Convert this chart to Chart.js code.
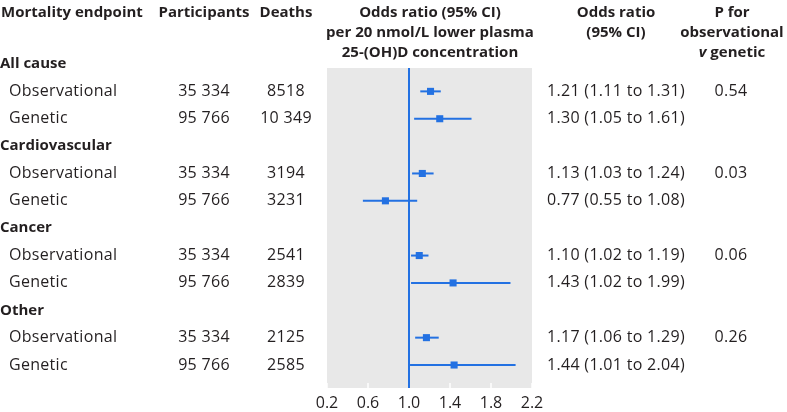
<!DOCTYPE html>
<html>
<head>
<meta charset="utf-8">
<script src="https://cdn.jsdelivr.net/npm/chart.js@4/dist/chart.umd.min.js"></script>
<style>
  html, body { margin: 0; padding: 0; background: #fff; }
  #wrap { width: 787px; height: 412px; position: relative; }
</style>
</head>
<body>
<div id="wrap"><canvas id="chart"></canvas></div>
<script>
const categories = ['All cause', 'Cardiovascular', 'Cancer', 'Other']
const methods = ['Observational', 'Genetic']
const participants = ['35 334', '95 766']
const deaths = [8518, 10349, 3194, 3231, 2541, 2839, 2125, 2585]
const oddsRatio = [1.21, 1.30, 1.13, 0.77, 1.10, 1.43, 1.17, 1.44]
const ciLow = [1.11, 1.05, 1.03, 0.55, 1.02, 1.02, 1.06, 1.01]
const ciHigh = [1.31, 1.61, 1.24, 1.08, 1.19, 1.99, 1.29, 2.04]
const pValues = ['0.54', '0.03', '0.06', '0.26']
const xTicks = [0.2, 0.6, 1.0, 1.4, 1.8, 2.2]

const BLUE = '#2371e2'
const TEXT = '#231f20'
const FONT = '"Open Sans", sans-serif'
const Y_MIN = 0.146, Y_MAX = 11.84

// each category gets a header row then one row per method
const rowOf = i => Math.floor(i / 2) * 3 + 1 + (i % 2)
const fmt = n => n >= 10000 ? String(n).replace(/(\d)(?=(\d{3})$)/, '$1 ') : String(n)

const ciSets = oddsRatio.map((_, i) => ({
  type: 'line',
  data: [{ x: ciLow[i], y: rowOf(i) }, { x: ciHigh[i], y: rowOf(i) }],
  borderColor: BLUE, borderWidth: 2, pointRadius: 0, order: 2
}))

const bgPlugin = {
  id: 'bg',
  beforeDraw(chart) {
    const { ctx, chartArea: a } = chart
    ctx.save()
    ctx.fillStyle = '#e8e8e8'
    ctx.fillRect(a.left, a.top, a.right - a.left, a.bottom - a.top)
    // small white tick marks at the bottom of the panel
    ctx.strokeStyle = '#fff'
    ctx.lineWidth = 1.5
    xTicks.forEach(t => {
      const x = chart.scales.x.getPixelForValue(t)
      ctx.beginPath(); ctx.moveTo(x, a.bottom); ctx.lineTo(x, a.bottom - 5); ctx.stroke()
    })
    ctx.restore()
  }
}

const textPlugin = {
  id: 'tableText',
  afterDraw(chart) {
    const { ctx } = chart
    const y = chart.scales.y
    ctx.save()
    ctx.fillStyle = TEXT
    ctx.textBaseline = 'middle'
    const put = (s, x, yy, align, bold) => {
      ctx.font = bold ? 'bold 15px ' + FONT : '16px ' + FONT
      ctx.letterSpacing = bold ? '0px' : '0.3px'
      ctx.textAlign = align
      ctx.fillText(s, x, yy)
    }
    // headers
    put('Mortality endpoint', 1, 13, 'left', true)
    put('Participants', 204, 13, 'center', true)
    put('Deaths', 286, 13, 'center', true)
    put('Odds ratio (95% CI)', 430, 13, 'center', true)
    put('per 20 nmol/L lower plasma', 430, 33, 'center', true)
    put('25-(OH)D concentration', 430, 53, 'center', true)
    put('Odds ratio', 616, 13, 'center', true)
    put('(95% CI)', 616, 33, 'center', true)
    put('P for', 732, 13, 'center', true)
    put('observational', 732, 33, 'center', true)
    // "v genetic" with italic v
    ctx.letterSpacing = '0px'
    ctx.font = 'bold 15px ' + FONT
    const gw = ctx.measureText(' genetic').width
    ctx.font = 'italic bold 15px ' + FONT
    const vw = ctx.measureText('v').width
    ctx.textAlign = 'left'
    ctx.fillText('v', 732 - (gw + vw) / 2, 53)
    ctx.font = 'bold 15px ' + FONT
    ctx.fillText(' genetic', 732 - (gw + vw) / 2 + vw, 53)

    categories.forEach((c, k) => {
      put(c, 0, y.getPixelForValue(k * 3), 'left', true)
      put(pValues[k], 731, y.getPixelForValue(k * 3 + 1), 'center', false)
    })
    oddsRatio.forEach((v, i) => {
      const py = y.getPixelForValue(rowOf(i))
      put(methods[i % 2], 9, py, 'left', false)
      put(participants[i % 2], 204, py, 'center', false)
      put(fmt(deaths[i]), 286, py, 'center', false)
      put(v.toFixed(2) + ' (' + ciLow[i].toFixed(2) + ' to ' + ciHigh[i].toFixed(2) + ')', 616, py, 'center', false)
    })
    ctx.restore()
  }
}

new Chart(document.getElementById('chart'), {
  type: 'scatter',
  data: {
    datasets: [
      {
        type: 'line',
        data: [{ x: 1, y: Y_MIN }, { x: 1, y: Y_MAX }],
        borderColor: BLUE, borderWidth: 2, pointRadius: 0, order: 3
      },
      ...ciSets,
      {
        data: oddsRatio.map((v, i) => ({ x: v, y: rowOf(i) })),
        pointStyle: 'rect', pointRadius: 5, pointHoverRadius: 5,
        backgroundColor: BLUE, borderWidth: 0, order: 1
      }
    ]
  },
  options: {
    responsive: true,
    maintainAspectRatio: false,
    animation: false,
    events: [],
    layout: { padding: { left: 327, right: 255, top: 68, bottom: 0 } },
    plugins: { legend: { display: false }, tooltip: { enabled: false } },
    scales: {
      x: {
        type: 'linear', min: 0.2, max: 2.2,
        afterBuildTicks: s => { s.ticks = xTicks.map(v => ({ value: v })) },
        afterFit: s => { s.height = 24 },
        grid: { display: false, drawTicks: false },
        border: { display: false },
        ticks: {
          padding: 6, color: TEXT, font: { family: FONT, size: 16 },
          callback: v => Number(v).toFixed(1)
        }
      },
      y: { type: 'linear', min: Y_MIN, max: Y_MAX, reverse: true, display: false }
    }
  },
  plugins: [bgPlugin, textPlugin]
})
</script>
</body>
</html>
